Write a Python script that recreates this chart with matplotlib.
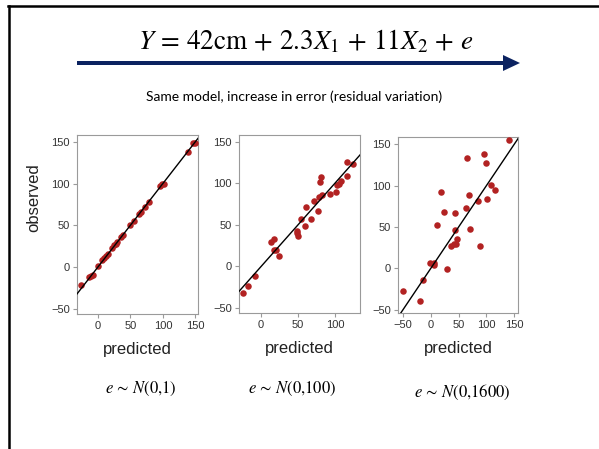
import matplotlib
matplotlib.use("Agg")
import matplotlib.pyplot as plt
from matplotlib.patches import FancyArrow
from matplotlib.lines import Line2D

plt.rcParams['mathtext.fontset'] = 'stix'
plt.rcParams['font.family'] = ['Liberation Sans', 'DejaVu Sans']

# ---- data ----
p1_pred = [-26, -13, -10, -8, 0, 7, 10, 12, 15, 22, 25, 28, 30, 36, 39, 50, 55, 63, 66, 72, 78, 96, 99, 101, 138, 146, 149]
p1_obs  = [-21, -12, -10, -9, 1, 8, 11, 13, 16, 23, 26, 28, 30, 36, 39, 50, 55, 64, 66, 72, 78, 97, 99, 100, 138, 148, 149]

p2_pred = [-25, -18, -8, 14, 18, 17, 20, 24, 49, 49, 50, 54, 59, 61, 67, 71, 77, 79, 80, 81, 83, 93, 102, 103, 106, 108, 117, 116, 125]
p2_obs  = [-32, -24, -11, 29, 33, 20, 20, 13, 43, 40, 37, 57, 49, 72, 57, 79, 67, 83, 102, 107, 86, 87, 89, 98, 99, 103, 109, 125, 123]

p3_pred = [-50, -20, -14, 0, -1, 5, 6, 29, 11, 18, 23, 37, 42, 45, 48, 44, 44, 64, 65, 68, 71, 85, 88, 96, 99, 102, 108, 116, 140]
p3_obs  = [-27, -39, -14, -60, 7, 7, 4, -1, 53, 93, 68, 27, 29, 29, 35, 46, 67, 73, 133, 89, 48, 82, 27, 139, 127, 84, 101, 95, 155]

panels = [
    dict(pred=p1_pred, obs=p1_obs, xlim=(-32, 154), xticks=[0, 50, 100, 150], ylim=(-56, 158)),
    dict(pred=p2_pred, obs=p2_obs, xlim=(-30, 134), xticks=[0, 50, 100], ylim=(-56, 158)),
    dict(pred=p3_pred, obs=p3_obs, xlim=(-59, 157), xticks=[-50, 0, 50, 100, 150], ylim=(-54, 159)),
]
yticks = [-50, 0, 50, 100, 150]
error_labels = [r'$e\,\sim\,N(0{,}1)$', r'$e\,\sim\,N(0{,}100)$', r'$e\,\sim\,N(0{,}1600)$']

W, H = 599, 449
fig = plt.figure(figsize=(W / 100, H / 100), dpi=100)

# overlay in pixel coordinates
ov = fig.add_axes([0, 0, 1, 1])
ov.set_xlim(0, W)
ov.set_ylim(H, 0)
ov.axis('off')

# slide frame
ov.add_line(Line2D([8, W], [6, 6], color='black', lw=1.8))
ov.add_line(Line2D([9, 9], [6, H], color='black', lw=1.8))

# title equation and arrow
ov.text(306, 42, r'$Y\,=\,42\mathrm{cm}\,+\,2.3X_1\,+\,11X_2\,+\,e$', fontsize=19.5,
        ha='center', va='center')
ov.add_patch(FancyArrow(77, 63, 443, 0, width=4, head_width=16, head_length=17,
                        length_includes_head=True, color='#0b2260', lw=0))
ov.text(294, 97, 'Same model, increase in error (residual variation)',
        fontsize=10, ha='center', va='center', family=['Lato', 'DejaVu Sans'])

rects = [(77, 198, 135, 314), (239, 360, 135, 313), (398, 518, 137, 313)]
err_pos = [(141, 389), (292, 389), (462, 392)]

for i, (p, r) in enumerate(zip(panels, rects)):
    l, rr, t, b = r
    ax = fig.add_axes([l / W, 1 - b / H, (rr - l) / W, (b - t) / H])
    ax.scatter(p['pred'], p['obs'], s=22, color='#b22222', zorder=3, linewidths=0)
    ax.axline((0, 0), slope=1, color='black', lw=1.0, zorder=4)
    ax.set_xlim(*p['xlim'])
    ax.set_ylim(*p['ylim'])
    ax.set_xticks(p['xticks'])
    ax.set_yticks(yticks)
    for s in ax.spines.values():
        s.set_color('#9a9a9a')
        s.set_linewidth(0.8)
    ax.tick_params(colors='#9a9a9a', labelcolor='#333333', labelsize=8, length=3, width=0.8, pad=2)
    ax.set_xlabel('predicted', fontsize=12, color='#222222', labelpad=8)
    ov.text(err_pos[i][0], err_pos[i][1], error_labels[i], fontsize=12, ha='center', va='center')

ov.text(34, 198, 'observed', rotation=90, fontsize=12, ha='center', va='center', color='#222222')
ov.set_zorder(-1)

fig.savefig('out.png', dpi=100)
